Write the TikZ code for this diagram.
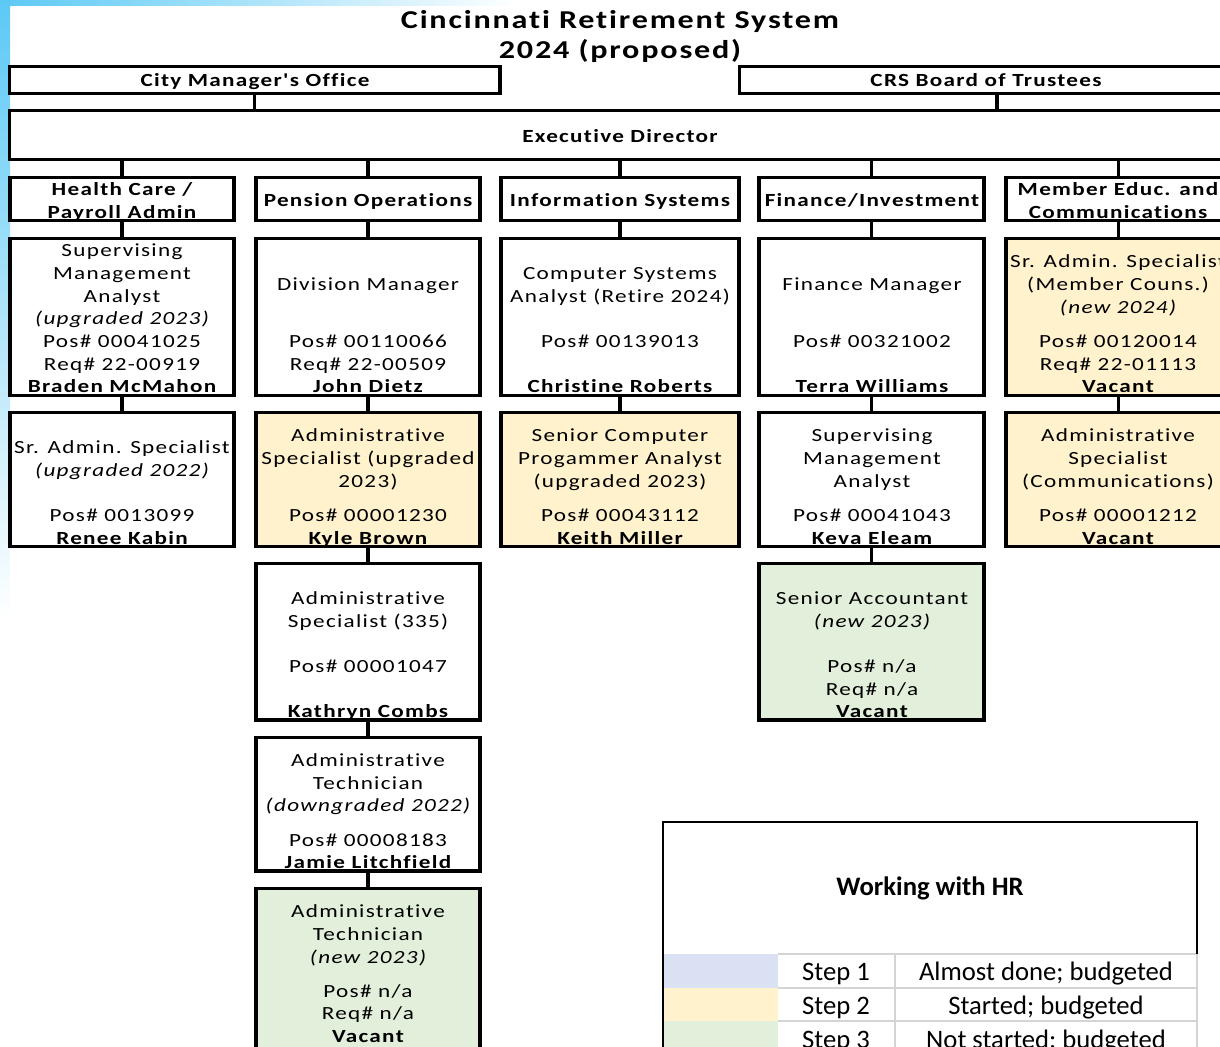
\documentclass[tikz,border=0pt]{standalone}
\usepackage{fontspec}
\setmainfont{Carlito}
\newfontfamily\boxfont{Carlito}[FakeStretch=1.25,LetterSpace=7,Ligatures=NoCommon]
\definecolor{yel}{HTML}{FFF2CC}
\definecolor{grn}{HTML}{E2EFDA}
\definecolor{blu}{HTML}{D9E1F2}
\definecolor{sky}{HTML}{5CC9F5}
\definecolor{gridc}{HTML}{D4D4D4}
\newcounter{tlc}
\tikzset{
  bx/.style={draw, line width=2.4pt, inner sep=0pt},
  con/.style={line width=2.4pt},
  txt/.style={inner sep=0pt, anchor=base, yshift=-4.5pt, text=black,
    font=\boxfont\fontsize{13.9}{16}\selectfont},
  nm/.style={txt, font=\boxfont\bfseries\fontsize{13.9}{16}\selectfont},
  itx/.style={txt, font=\boxfont\itshape\fontsize{13.9}{16}\selectfont},
  ttl/.style={inner sep=0pt, anchor=base, yshift=-6pt,
    font=\boxfont\bfseries\fontsize{19.3}{22}\selectfont},
  lg/.style={inner sep=0pt, anchor=base, yshift=-6.5pt,
    font=\fontsize{20}{24}\selectfont},
  lgb/.style={lg, font=\bfseries\fontsize{20}{24}\selectfont},
}
\newcommand\T[4][txt]{\stepcounter{tlc}\node[#1] (t\arabic{tlc}) at (#2,#3) {#4};}
\newcommand\B[6]{\node[bx, fill=#6, minimum width={(#4-#2)*0.75pt},
  minimum height={(#5-#3)*0.75pt}] (#1) at ({(#2+#4)/2},{(#3+#5)/2}) {};}
\begin{document}
\begin{tikzpicture}[x=0.75pt,y=-0.75pt]
\useasboundingbox (0,0) rectangle (1220,1046);
\clip (0,0) rectangle (1220,1046);
\fill[white] (0,0) rectangle (1220,1046);
% background strips
\shade[left color=sky, right color=white] (0,0) rectangle (520,5);
\shade[top color=sky, bottom color=white] (0,0) rectangle (10,620);

% title
\node[ttl] (title1) at (620,20) {Cincinnati Retirement System};
\node[ttl] (title2) at (620,50) {2024 (proposed)};

% top boxes
\B{city}{9.5}{66.5}{500}{93.5}{white}
\B{crs}{739.5}{66.5}{1254.5}{93.5}{white}
\B{ed}{9.5}{110.5}{1254.5}{159.5}{white}
\T[nm]{255}{80}{City Manager's Office}
\T[nm]{986}{80}{CRS Board of Trustees}
\T[nm]{620}{136}{Executive Director}
\draw[con] (city.south) -- (city.south |- ed.north);
\draw[con] (crs.south) -- (crs.south |- ed.north);

% department row
\B{d1}{10}{177.5}{234}{220.5}{white}
\B{d2}{256}{177.5}{480}{220.5}{white}
\B{d3}{501}{177.5}{739}{220.5}{white}
\B{d4}{759}{177.5}{984}{220.5}{white}
\B{d5}{1006}{177.5}{1231}{220.5}{white}
\foreach \d in {d1,d2,d3,d4,d5} {\draw[con] (\d.north) -- (\d.north |- ed.south);}
\T[nm]{122}{189}{Health Care /}
\T[nm]{122}{212}{Payroll Admin}
\T[nm]{368}{200}{Pension Operations}
\T[nm]{620}{200}{Information Systems}
\T[nm]{872}{200}{Finance/Investment}
\T[nm]{1118}{189}{Member Educ. and}
\T[nm]{1118}{212}{Communications}

% row 2
\B{a1}{10}{238.5}{234}{395.5}{white}
\B{a2}{256}{238.5}{480}{395.5}{white}
\B{a3}{501}{238.5}{739}{395.5}{white}
\B{a4}{759}{238.5}{984}{395.5}{white}
\B{a5}{1006}{238.5}{1231}{395.5}{yel}
\draw[con] (d1.south) -- (a1.north);
\draw[con] (d2.south) -- (a2.north);
\draw[con] (d3.south) -- (a3.north);
\draw[con] (d4.south) -- (a4.north);
\draw[con] (d5.south) -- (a5.north);
\T{122}{250}{Supervising}
\T{122}{273}{Management}
\T{122}{296}{Analyst}
\T[itx]{122}{318}{(upgraded 2023)}
\T{122}{341}{Pos\# 00041025}
\T{122}{364}{Req\# 22-00919}
\T[nm]{122}{386}{Braden McMahon}
\T{368}{284}{Division Manager}
\T{368}{341}{Pos\# 00110066}
\T{368}{364}{Req\# 22-00509}
\T[nm]{368}{386}{John Dietz}
\T{620}{273}{Computer Systems}
\T{620}{296}{Analyst (Retire 2024)}
\T{620}{341}{Pos\# 00139013}
\T[nm]{620}{386}{Christine Roberts}
\T{872}{284}{Finance Manager}
\T{872}{341}{Pos\# 00321002}
\T[nm]{872}{386}{Terra Williams}
\T{1118}{261}{Sr. Admin. Specialist}
\T{1118}{284}{(Member Couns.)}
\T[itx]{1118}{307}{(new 2024)}
\T{1118}{341}{Pos\# 00120014}
\T{1118}{364}{Req\# 22-01113}
\T[nm]{1118}{386}{Vacant}

% row 3
\B{b1}{10}{412.5}{234}{546.5}{white}
\B{b2}{256}{412.5}{480}{546.5}{yel}
\B{b3}{501}{412.5}{739}{546.5}{yel}
\B{b4}{759}{412.5}{984}{546.5}{white}
\B{b5}{1006}{412.5}{1231}{546.5}{yel}
\draw[con] (a1.south) -- (b1.north);
\draw[con] (a2.south) -- (b2.north);
\draw[con] (a3.south) -- (b3.north);
\draw[con] (a4.south) -- (b4.north);
\draw[con] (a5.south) -- (b5.north);
\T{122}{447}{Sr. Admin. Specialist}
\T[itx]{122}{470}{(upgraded 2022)}
\T{122}{515}{Pos\# 0013099}
\T[nm]{122}{538}{Renee Kabin}
\T{368}{435}{Administrative}
\T{368}{458}{Specialist (upgraded}
\T{368}{481}{2023)}
\T{368}{515}{Pos\# 00001230}
\T[nm]{368}{538}{Kyle Brown}
\T{620}{435}{Senior Computer}
\T{620}{458}{Progammer Analyst}
\T{620}{481}{(upgraded 2023)}
\T{620}{515}{Pos\# 00043112}
\T[nm]{620}{538}{Keith Miller}
\T{872}{435}{Supervising}
\T{872}{458}{Management}
\T{872}{481}{Analyst}
\T{872}{515}{Pos\# 00041043}
\T[nm]{872}{538}{Keva Eleam}
\T{1118}{435}{Administrative}
\T{1118}{458}{Specialist}
\T{1118}{481}{(Communications)}
\T{1118}{515}{Pos\# 00001212}
\T[nm]{1118}{538}{Vacant}

% row 4
\B{c2}{256}{563.5}{480}{720}{white}
\B{c4}{759}{563.5}{984}{720}{grn}
\draw[con] (b2.south) -- (c2.north);
\draw[con] (b4.south) -- (c4.north);
\T{368}{598}{Administrative}
\T{368}{621}{Specialist (335)}
\T{368}{666}{Pos\# 00001047}
\T[nm]{368}{711}{Kathryn Combs}
\T{872}{598}{Senior Accountant}
\T[itx]{872}{621}{(new 2023)}
\T{872}{666}{Pos\# n/a}
\T{872}{689}{Req\# n/a}
\T[nm]{872}{711}{Vacant}

% row 5
\B{e2}{256}{737.5}{480}{871}{white}
\draw[con] (c2.south) -- (e2.north);
\T{368}{760}{Administrative}
\T{368}{783}{Technician}
\T[itx]{368}{805}{(downgraded 2022)}
\T{368}{840}{Pos\# 00008183}
\T[nm]{368}{862}{Jamie Litchfield}

% row 6
\B{f2}{256}{888.5}{480}{1070}{grn}
\draw[con] (e2.south) -- (f2.north);
\T{368}{911}{Administrative}
\T{368}{934}{Technician}
\T[itx]{368}{957}{(new 2023)}
\T{368}{991}{Pos\# n/a}
\T{368}{1013}{Req\# n/a}
\T[nm]{368}{1036}{Vacant}

% legend
\fill[blu] (663,954) rectangle (778,988);
\fill[yel] (663,988) rectangle (778,1021);
\fill[grn] (663,1021) rectangle (778,1060);
\draw[gridc, line width=1.5pt] (778,954) -- (1197,954) (778,988) -- (1197,988) (778,1021) -- (1197,1021)
  (895,954) -- (895,1060) (1197,954) -- (1197,1060);
\draw[line width=1.5pt] (663,1060) -- (663,822) -- (1197,822) -- (1197,954);
\node[lgb] (lgt) at (930,887) {Working with HR};
\node[lg] (s1) at (836,972) {Step 1};
\node[lg] (s2) at (836,1006) {Step 2};
\node[lg] (s3) at (836,1040) {Step 3};
\node[lg] (l1) at (1046,972) {Almost done; budgeted};
\node[lg] (l2) at (1046,1006) {Started; budgeted};
\node[lg] (l3) at (1046,1040) {Not started; budgeted};
\end{tikzpicture}
\end{document}
